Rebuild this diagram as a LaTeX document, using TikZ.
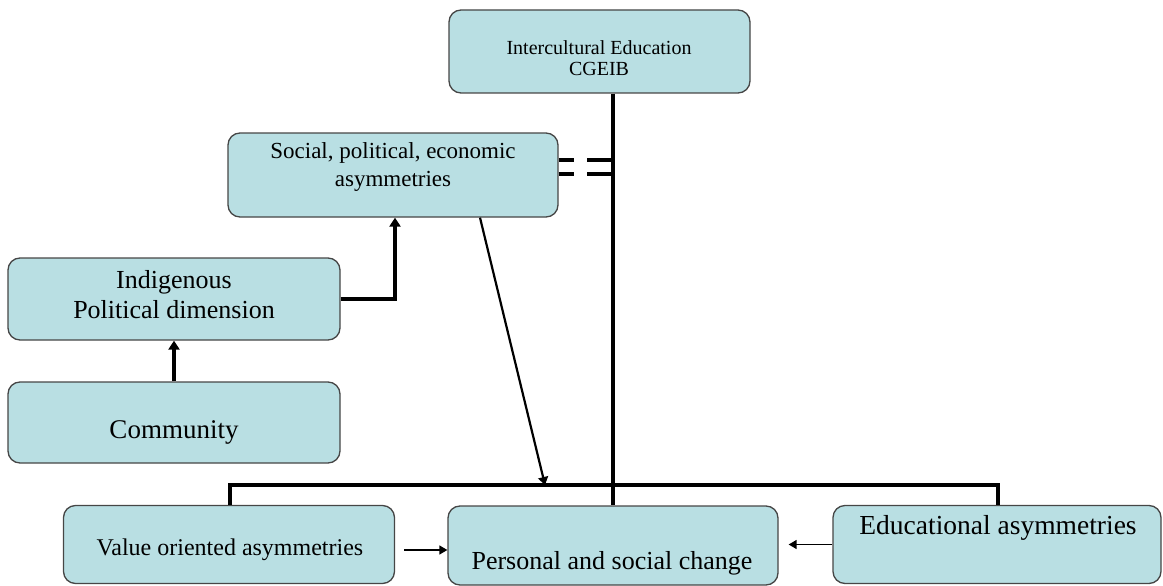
\documentclass[tikz,border=0pt]{standalone}
\usepackage{fontspec}
\setmainfont{Liberation Serif}
\usetikzlibrary{arrows.meta,calc}
\definecolor{boxfill}{RGB}{185,223,227}
\definecolor{boxline}{RGB}{70,70,70}
\tikzset{
  box/.style={rectangle, rounded corners=12pt, fill=boxfill, draw=boxline,
    line width=1.3pt, inner sep=0pt},
  txt/.style={align=center, inner sep=0pt, text=black},
  heavy/.style={line width=4.8pt, line cap=butt},
  heavyarrow/.style={line width=4.8pt, -{Triangle[length=9pt,width=11pt]}},
  midarrow/.style={line width=2.2pt, -{Triangle[length=8pt,width=10pt]}},
  thinarrow/.style={line width=1.4pt, -{Triangle[length=8pt,width=9pt]}}
}
\begin{document}
\begin{tikzpicture}[x=1pt,y=-1pt]
\useasboundingbox (0,0) rectangle (1163,586);

% boxes
\node[box, minimum width=301pt, minimum height=83pt] (top) at (599.5,51.5) {};
\node[box, minimum width=330pt, minimum height=84pt] (soc) at (393,175) {};
\node[box, minimum width=332pt, minimum height=82pt] (ind) at (174,299) {};
\node[box, minimum width=332pt, minimum height=81pt] (com) at (174,422.5) {};
\node[box, minimum width=331pt, minimum height=78pt] (val) at (229,544.5) {};
\node[box, minimum width=330pt, minimum height=79pt] (pers) at (613,545.5) {};
\node[box, minimum width=328pt, minimum height=78pt] (edu) at (997,544.5) {};

% labels
\node[txt, font=\fontsize{20}{21}\selectfont] (ttop) at (599,58) {Intercultural Education\\CGEIB};
\node[txt, font=\fontsize{23}{28}\selectfont] (tsoc) at (393,167) {Social, political, economic\\asymmetries};
\node[txt, font=\fontsize{26}{30}\selectfont] (tind) at (174,295) {Indigenous\\Political dimension};
\node[txt, font=\fontsize{27}{30}\selectfont] (tcom) at (174,432) {Community};
\node[txt, font=\fontsize{24}{28}\selectfont] (tval) at (230,550) {Value oriented asymmetries};
\node[txt, font=\fontsize{26}{30}\selectfont] (tpers) at (612,563) {Personal and social change};
\node[txt, font=\fontsize{27.5}{30}\selectfont] (tedu) at (998,528) {Educational asymmetries};

% helper coordinates
\coordinate (bend) at (395,0);
\coordinate (diag) at (480,0);
\coordinate (dtip) at (545,485);
\coordinate (barL) at (230,485);
\coordinate (barR) at (998,485);
\coordinate (dl1) at (0,160);
\coordinate (dl2) at (0,174);
\coordinate (vlev) at (0,550);

% spine from the top box down to the central box
\draw[heavy] (top.south -| pers.north) -- (pers.north);

% broken double link to the asymmetries box
\foreach \c in {dl1,dl2} {
  \draw[heavy] (soc.east |- \c) -- ++(15,0);
  \draw[heavy] (pers.north |- \c) -- ++(-26,0);
}

% distribution bar
\draw[heavy] (val.north -| barL) -- (barL) -- (barR) -- (edu.north -| barR);

% arrows
\draw[heavyarrow] (com.north) -- (ind.south);
\draw[heavyarrow] (ind.east) -| (soc.south -| bend);
\draw[midarrow] (soc.south -| diag) -- (dtip);
\draw[thinarrow, shorten <=9pt] (val.east |- vlev) -- (pers.west |- vlev);
\draw[thinarrow, shorten >=10pt] (edu.west) -- (pers.east |- edu.west);
\end{tikzpicture}
\end{document}
